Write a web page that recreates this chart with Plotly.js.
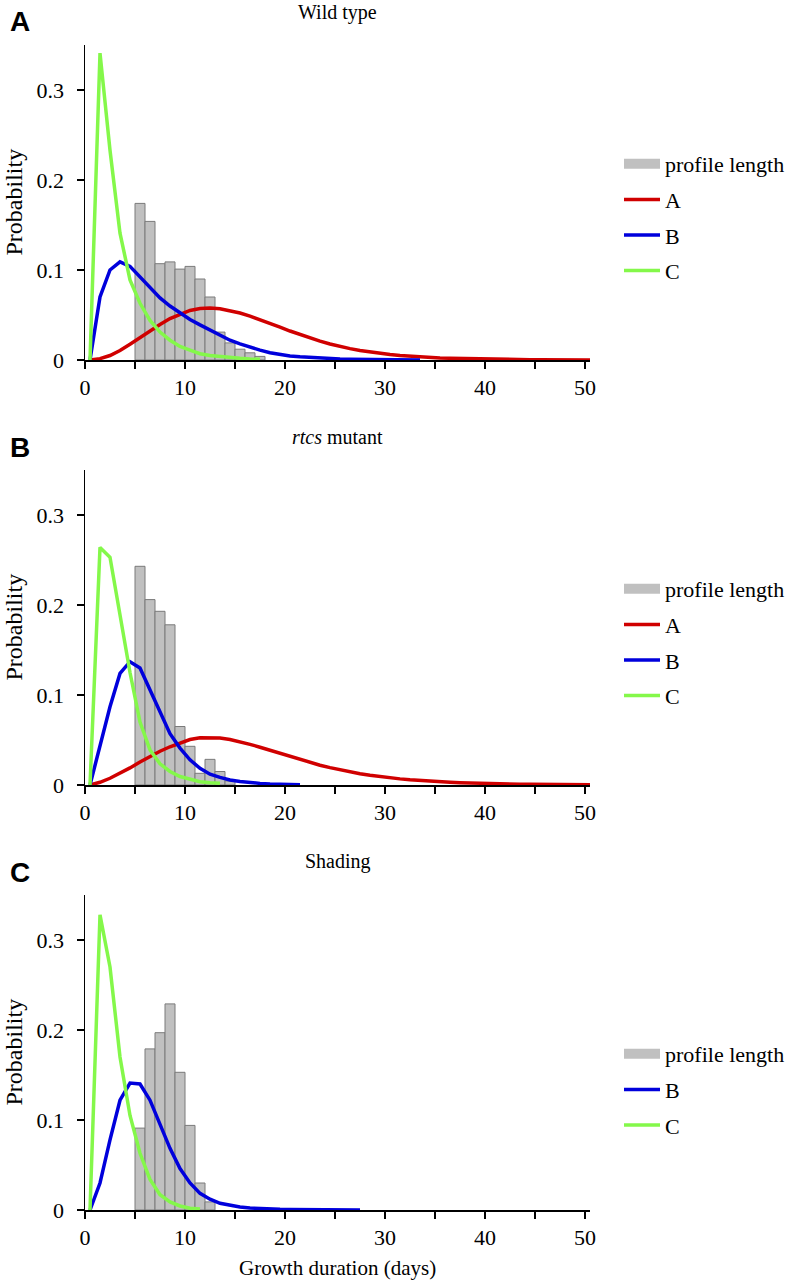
<!DOCTYPE html>
<html>
<head>
<meta charset="utf-8">
<script src="https://cdn.plot.ly/plotly-3.0.1.min.js"></script>
<style>html,body{margin:0;padding:0;background:#fff}#chart{width:789px;height:1282px}</style>
</head>
<body>
<div id="chart"></div>
<script>
// ---------- data ----------
const days = [0.5,1.5,2.5,3.5,4.5,5.5,6.5,7.5,8.5,9.5,10.5,11.5,12.5,13.5,14.5,15.5,16.5,17.5,18.5,19.5,20.5,21.5,22.5,23.5,24.5,25.5,26.5,27.5,28.5,29.5,30.5,31.5,32.5,33.5,34.5,35.5,36.5,37.5,38.5,39.5,40.5,41.5,42.5,43.5,44.5,45.5,46.5,47.5,48.5,49.5,50.5];
const binCenters = [5.5,6.5,7.5,8.5,9.5,10.5,11.5,12.5,13.5,14.5,15.5,16.5,17.5];

// Panel A: Wild type
const histA = [0.174,0.154,0.107,0.109,0.101,0.104,0.090,0.070,0.031,0.019,0.012,0.008,0.004];
const redA = [0,0.0015,0.0050,0.0105,0.0175,0.0250,0.0325,0.0395,0.0460,0.0510,0.0550,0.0572,0.0578,0.0570,0.0550,0.0522,0.0488,0.0450,0.0410,0.0365,0.0322,0.0282,0.0245,0.0210,0.0178,0.0150,0.0126,0.0105,0.0088,0.0073,0.0060,0.0050,0.0041,0.0034,0.0028,0.0023,0.0019,0.0016,0.0013,0.0011,0.0009,0.0007,0.0006,0.0005,0.0004,0.0003,0.00025,0.0002,0.00016,0.00013,0.0001];
const blueA = [0,0.070,0.100,0.109,0.104,0.092,0.080,0.069,0.060,0.052,0.045,0.039,0.033,0.027,0.022,0.018,0.014,0.011,0.008,0.006,0.0045,0.0035,0.0027,0.002,0.0015,0.0012,0.0009,0.0007,0.0005,0.0004,0.0003,0.0002,0.00015,0.0001];
const greenA = [0,0.341,0.233,0.141,0.089,0.063,0.044,0.031,0.022,0.015,0.011,0.007,0.005,0.0037,0.0026,0.0019,0.0012,0.0008];

// Panel B: rtcs mutant
const histB = [0.243,0.206,0.193,0.178,0.065,0.043,0.013,0.0285,0.015,0.0045];
const redB = [0,0.003,0.0075,0.013,0.019,0.0255,0.032,0.0375,0.0425,0.0465,0.0505,0.0525,0.0528,0.0522,0.0505,0.0480,0.0452,0.0420,0.0385,0.0350,0.0315,0.0282,0.0250,0.0220,0.0193,0.0168,0.0145,0.0125,0.0108,0.0093,0.0080,0.0068,0.0058,0.0049,0.0042,0.0036,0.0030,0.0025,0.0021,0.0018,0.0015,0.0013,0.0011,0.0009,0.0008,0.0006,0.0005,0.0004,0.0004,0.0003,0.0003];
const blueB = [0,0.043,0.087,0.124,0.137,0.130,0.106,0.080,0.057,0.041,0.028,0.0185,0.012,0.0085,0.0056,0.004,0.0026,0.0018,0.0012,0.0008,0.0005,0.0003];
const greenB = [0,0.264,0.253,0.19,0.125,0.07,0.039,0.0235,0.015,0.0094,0.0067,0.0037,0.0026,0.002];

// Panel C: Shading
const histC = [0.091,0.179,0.197,0.229,0.153,0.094,0.030,0.009];
const blueC = [0,0.030,0.078,0.122,0.141,0.140,0.122,0.096,0.0685,0.046,0.030,0.0185,0.012,0.0074,0.005,0.0033,0.0022,0.0015,0.001,0.0007,0.0005,0.0004,0.0003,0.0002,0.00015,0.0001,0.00008,0.00005];
const greenC = [0,0.328,0.270,0.170,0.105,0.063,0.034,0.017,0.009,0.0045,0.002,0.001];

const xTickVals = [0,5,10,15,20,25,30,35,40,45,50];
const xTickText = ['0','','10','','20','','30','','40','','50'];
const yTickVals = [0,0.1,0.2,0.3];
const yTickText = ['0','0.1','0.2','0.3'];
const panelTitles = ['Wild type','<i>rtcs</i> mutant','Shading'];
const panelLetters = ['A','B','C'];

// ---------- style / layout ----------
const W = 789, H = 1282;
const FONT = 'Liberation Serif, Times New Roman, serif';
const SANS = 'Liberation Sans, Arial, sans-serif';
const RED = '#d00000', BLUE = '#0000dc', GREEN = '#84f84a', BARFILL = '#c0c0c0', BAREDGE = '#7a7a7a';
const px = x => x / W;
const py = y => 1 - y / H;
const plotLeft = 85, plotRight = 590;
const baselines = [360, 785, 1210];
const axisHeight = 315;

const traces = [];
function addPanel(i, hist, red, blue, green) {
  const xa = i === 0 ? 'x' : 'x' + (i + 1);
  const ya = i === 0 ? 'y' : 'y' + (i + 1);
  const lg = i === 0 ? 'legend' : 'legend' + (i + 1);
  traces.push({type:'bar', x: binCenters.slice(0, hist.length), y: hist, width: 1,
    marker:{color:BARFILL, line:{color:BAREDGE, width:1}}, xaxis:xa, yaxis:ya, showlegend:false, hoverinfo:'skip'});
  traces.push({type:'scatter', mode:'lines', x:[null], y:[null], name:'profile length',
    line:{color:BARFILL, width:10}, xaxis:xa, yaxis:ya, legend:lg, legendgroup:'p'+i});
  if (red) traces.push({type:'scatter', mode:'lines', x: days.slice(0, red.length), y: red, name:'A',
    line:{color:RED, width:3.5}, xaxis:xa, yaxis:ya, legend:lg, legendgroup:'a'+i});
  traces.push({type:'scatter', mode:'lines', x: days.slice(0, blue.length), y: blue, name:'B',
    line:{color:BLUE, width:3.5}, xaxis:xa, yaxis:ya, legend:lg, legendgroup:'b'+i});
  traces.push({type:'scatter', mode:'lines', x: days.slice(0, green.length), y: green, name:'C',
    line:{color:GREEN, width:3.5}, xaxis:xa, yaxis:ya, legend:lg, legendgroup:'c'+i});
}
addPanel(0, histA, redA, blueA, greenA);
addPanel(1, histB, redB, blueB, greenB);
addPanel(2, histC, null, blueC, greenC);

const layout = {
  width: W, height: H, margin:{l:0,r:0,t:0,b:0,autoexpand:false},
  paper_bgcolor:'#fff', plot_bgcolor:'rgba(0,0,0,0)',
  font:{family:FONT, size:22, color:'#000'},
  barmode:'overlay', showlegend:true, annotations:[]
};
const legendTops = [143, 568, 1033];
for (let i = 0; i < 3; i++) {
  const s = i === 0 ? '' : String(i + 1);
  const yb = baselines[i];
  layout['xaxis' + s] = {domain:[px(plotLeft), px(plotRight)], range:[0, 50.5], anchor:'y' + s,
    showline:true, linecolor:'#000', linewidth:1.5, ticks:'outside', ticklen:7, tickwidth:1.5, tickcolor:'#000',
    tickvals:xTickVals, ticktext:xTickText, showgrid:false, zeroline:false, automargin:false,
    tickfont:{family:FONT, size:22, color:'#000'}, fixedrange:true};
  layout['yaxis' + s] = {domain:[py(yb), py(yb - axisHeight)], range:[0, 0.35], anchor:'x' + s,
    showline:true, linecolor:'#000', linewidth:1.5, ticks:'outside', ticklen:7, tickwidth:1.5, tickcolor:'#000',
    tickvals:yTickVals, ticktext:yTickText, showgrid:false, zeroline:false, ticklabelstandoff:8, automargin:false,
    tickfont:{family:FONT, size:22, color:'#000'}, fixedrange:true};
  layout['legend' + s] = {x:px(619), y:py(legendTops[i]), xanchor:'left', yanchor:'top',
    font:{family:FONT, size:22, color:'#000'}, bgcolor:'rgba(0,0,0,0)', itemwidth:36,
    traceorder:'grouped', tracegroupgap:4, itemclick:false, itemdoubleclick:false};
  layout.annotations.push({xref:'paper', yref:'paper', x:px((plotLeft+plotRight)/2), y:py(yb - 348),
    text:panelTitles[i], showarrow:false, xanchor:'center', yanchor:'middle', font:{family:FONT, size:20, color:'#000'}});
  layout.annotations.push({xref:'paper', yref:'paper', x:px(8), y:py(yb - 338),
    text:'<b>' + panelLetters[i] + '</b>', showarrow:false, xanchor:'left', yanchor:'middle',
    font:{family:SANS, size:28, color:'#000'}});
  layout.annotations.push({xref:'paper', yref:'paper', x:px(13), y:py(yb - axisHeight/2),
    text:'Probability', showarrow:false, textangle:-90, xanchor:'center', yanchor:'middle',
    font:{family:FONT, size:24, color:'#000'}});
}
layout.annotations.push({xref:'paper', yref:'paper', x:px((plotLeft+plotRight)/2), y:py(1268),
  text:'Growth duration (days)', showarrow:false, xanchor:'center', yanchor:'middle', font:{family:FONT, size:21, color:'#000'}});

Plotly.newPlot('chart', traces, layout, {staticPlot:true, displayModeBar:false});
</script>
</body>
</html>
